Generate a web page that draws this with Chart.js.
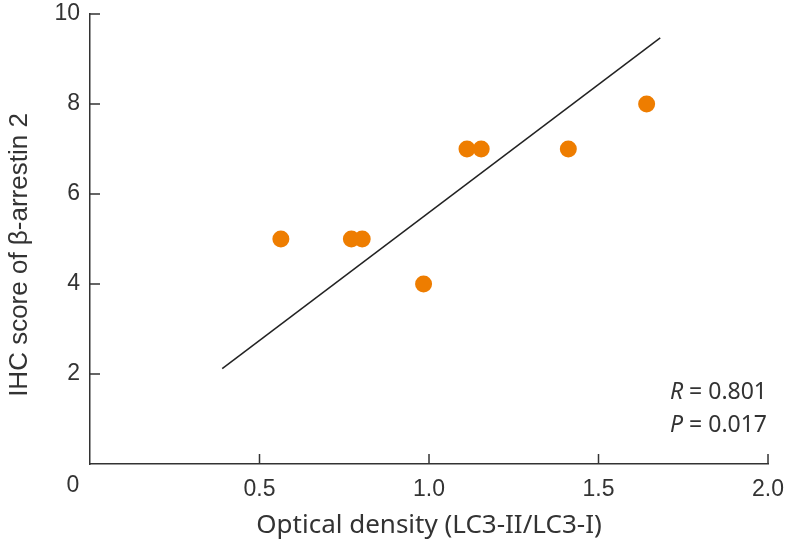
<!DOCTYPE html>
<html>
<head>
<meta charset="utf-8">
<script src="https://cdn.jsdelivr.net/npm/chart.js@4/dist/chart.umd.min.js"></script>
<style>
  html, body { margin: 0; padding: 0; background: #fff; }
  #wrap { width: 788px; height: 546px; }
</style>
</head>
<body>
<div id="wrap"><canvas id="chart"></canvas></div>
<script>
// data
const densityX = [0.563, 0.771, 0.803, 0.984, 1.112, 1.154, 1.411, 1.642];
const ihcScoreY = [5, 5, 5, 4, 7, 7, 7, 8];
const fitX = [0.39, 1.682];
const fitY = [2.12, 9.47];
const xTicks = [0.5, 1.0, 1.5, 2.0];
const yTicks = [2, 4, 6, 8, 10];
const statLines = [['R', ' = 0.801'], ['P', ' = 0.017']];
const yTitle = 'IHC score of β-arrestin 2';

const tickColor = '#333';

// inward tick marks, the shared "0", the y title and the R/P note
const extras = {
  id: 'extras',
  afterDraw(chart) {
    const ctx = chart.ctx;
    const xs = chart.scales.x, ys = chart.scales.y;
    const area = chart.chartArea;
    ctx.save();
    ctx.strokeStyle = tickColor;
    ctx.lineWidth = 1.5;
    ctx.beginPath();
    xTicks.forEach(v => {
      const px = xs.getPixelForValue(v);
      ctx.moveTo(px, area.bottom);
      ctx.lineTo(px, area.bottom - 10);
    });
    yTicks.forEach(v => {
      const py = ys.getPixelForValue(v);
      ctx.moveTo(area.left, py);
      ctx.lineTo(area.left + 10, py);
    });
    ctx.stroke();

    ctx.fillStyle = tickColor;
    ctx.font = '23px "Liberation Sans"';
    ctx.textAlign = 'center';
    ctx.textBaseline = 'middle';
    ctx.fillText('0', xs.getPixelForValue(0) - 17, area.bottom + 22);

    // y axis title
    ctx.save();
    ctx.translate(27, (area.top + area.bottom) / 2 + 16);
    ctx.rotate(-Math.PI / 2);
    ctx.font = '26px "Liberation Sans"';
    ctx.textBaseline = 'alphabetic';
    ctx.fillText(yTitle, 0, 0);
    ctx.restore();

    ctx.textAlign = 'left';
    statLines.forEach((s, i) => {
      ctx.font = '23px "Noto Sans"';
      const restW = ctx.measureText(s[1]).width;
      ctx.font = 'italic 23px "Noto Sans"';
      const letW = ctx.measureText(s[0]).width;
      const x0 = area.right - 1 - restW - letW;
      const y = area.bottom - 72 + i * 33;
      ctx.fillText(s[0], x0, y);
      ctx.font = '23px "Noto Sans"';
      ctx.fillText(s[1], x0 + letW, y);
    });
    ctx.restore();
  }
};

new Chart(document.getElementById('chart'), {
  type: 'scatter',
  data: {
    datasets: [{
      data: densityX.map((x, i) => ({x: x, y: ihcScoreY[i]})),
      backgroundColor: '#ee7d00',
      borderWidth: 0,
      pointRadius: 8.5
    }, {
      type: 'line',
      data: fitX.map((x, i) => ({x: x, y: fitY[i]})),
      borderColor: '#222',
      borderWidth: 1.5,
      pointRadius: 0,
      fill: false
    }]
  },
  options: {
    responsive: true,
    maintainAspectRatio: false,
    animation: false,
    layout: { padding: { top: 14, right: 14, left: 0, bottom: 0 } },
    plugins: { legend: { display: false }, tooltip: { enabled: false } },
    scales: {
      x: {
        type: 'linear',
        min: 0, max: 2,
        afterBuildTicks: s => { s.ticks = xTicks.map(v => ({value: v})); },
        afterFit: s => { s.height = 82; },
        grid: { display: false },
        border: { display: true, color: tickColor, width: 1.5 },
        ticks: {
          color: tickColor,
          font: { family: 'Liberation Sans', size: 23 },
          padding: 4,
          maxRotation: 0,
          callback: v => v.toFixed(1)
        },
        title: {
          display: true,
          text: 'Optical density (LC3-II/LC3-I)',
          color: tickColor,
          font: { family: 'Noto Sans', size: 26 },
          padding: { top: 0, bottom: 5 }
        }
      },
      y: {
        min: 0, max: 10,
        afterBuildTicks: s => { s.ticks = yTicks.map(v => ({value: v})); },
        afterFit: s => { s.width = 90; s.paddingTop = 0; s.paddingBottom = 0; },
        grid: { display: false },
        border: { display: true, color: tickColor, width: 1.5 },
        ticks: {
          color: tickColor,
          font: { family: 'Liberation Sans', size: 23 },
          padding: 2
        }
      }
    }
  },
  plugins: [extras]
});
</script>
</body>
</html>
